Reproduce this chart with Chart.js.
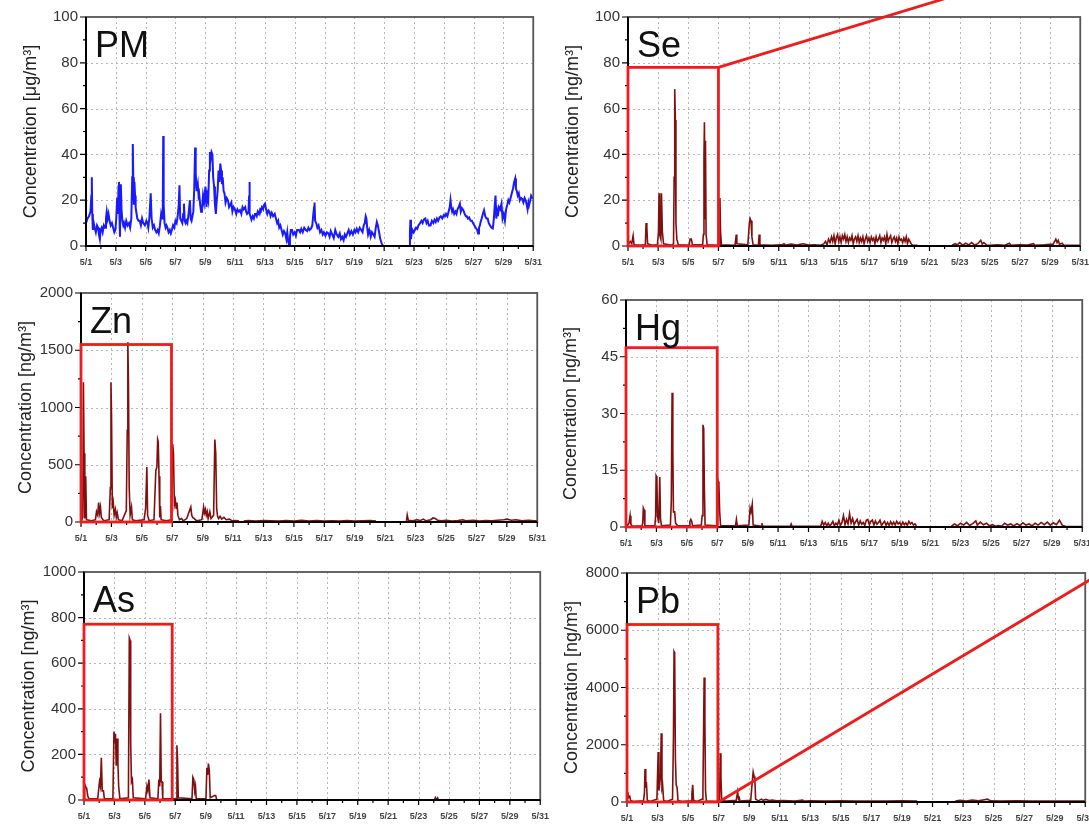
<!DOCTYPE html>
<html>
<head>
<meta charset="utf-8">
<script src="https://cdn.jsdelivr.net/npm/chart.js"></script>
<style>
  body { margin: 0; width: 1089px; height: 825px; overflow: hidden; background: #fff; position: relative; }
  canvas { position: absolute; }
</style>
</head>
<body>
<canvas id="pm"></canvas>
<canvas id="se"></canvas>
<canvas id="zn"></canvas>
<canvas id="hg"></canvas>
<canvas id="as"></canvas>
<canvas id="pb"></canvas>
<script>
// x values are days of May (1 = 5/1 00:00); null marks the missing stretch
var dayTicks = [1, 3, 5, 7, 9, 11, 13, 15, 17, 19, 21, 23, 25, 27, 29, 31];

var pmReadings = [
  [1.00,10],[1.10,12],[1.20,13],[1.30,15],[1.36,22],[1.39,30],[1.42,14],[1.46,7],[1.52,10],[1.58,8],
  [1.66,6],[1.74,9],[1.81,8],[1.87,5],[1.93,3],[1.98,7],[2.05,8],[2.12,6],[2.20,9],[2.28,8],
  [2.34,12],[2.39,15],[2.45,12],[2.51,14],[2.58,11],[2.66,9],[2.74,10],[2.82,8],[2.90,6],[2.97,7],
  [3.03,12],[3.09,21],[3.14,14],[3.18,26],[3.21,28],[3.25,12],[3.28,4],[3.31,22],[3.34,27],[3.38,16],
  [3.44,11],[3.50,9],[3.55,10],[3.62,8],[3.70,11],[3.79,9],[3.88,10],[3.96,8],[4.04,12],[4.10,30],
  [4.14,44.5],[4.17,30],[4.21,18],[4.25,28],[4.29,22],[4.33,17],[4.37,15],[4.44,12],[4.52,11],[4.60,11],
  [4.68,9],[4.76,12],[4.84,10],[4.95,9],[5.05,11],[5.12,10],[5.18,8],[5.26,13],[5.34,23],[5.40,12],
  [5.48,8],[5.56,9],[5.64,7],[5.72,6],[5.80,7],[5.88,5.5],[5.96,9],[6.04,14],[6.10,12],[6.15,16],
  [6.18,48],[6.21,18],[6.27,10],[6.34,8],[6.40,9],[6.46,8],[6.54,6],[6.62,7],[6.69,5.5],[6.76,7],
  [6.84,9],[6.92,8],[7.00,11],[7.08,10],[7.15,13],[7.22,18],[7.27,26.5],[7.32,12],[7.39,11],[7.46,10],
  [7.52,14],[7.57,18.5],[7.62,11],[7.68,10],[7.73,11],[7.80,10],[7.88,14],[7.97,20],[8.02,12],[8.08,11],
  [8.14,13],[8.20,15],[8.26,25],[8.32,43],[8.36,32],[8.40,26],[8.43,24],[8.50,27],[8.55,22],[8.59,23],
  [8.66,18],[8.72,15],[8.78,15.6],[8.85,22],[8.92,19],[9.01,26],[9.08,17],[9.14,22],[9.20,20],[9.26,33],
  [9.31,41],[9.36,38],[9.42,41],[9.48,40],[9.53,30],[9.59,26],[9.65,18],[9.71,14],[9.77,20],[9.83,24],
  [9.89,33],[9.95,28],[10.01,36],[10.06,33],[10.12,27],[10.17,30],[10.23,24],[10.29,23],[10.36,19],[10.44,21],
  [10.52,20],[10.60,17],[10.68,18],[10.75,19],[10.82,15],[10.90,17],[10.99,16],[11.08,14],[11.16,16],[11.25,15],
  [11.33,15.6],[11.42,14],[11.50,17],[11.58,16],[11.68,17],[11.74,15],[11.80,14],[11.90,15],[11.94,22],[11.96,28],
  [11.99,14],[12.03,13],[12.10,11.5],[12.18,13],[12.26,12],[12.33,14],[12.38,14],[12.45,13],[12.52,15],[12.60,14],
  [12.68,16],[12.73,15.6],[12.80,17],[12.88,16],[12.95,18],[13.01,18.5],[13.08,16],[13.16,14],[13.24,15.5],[13.31,15],
  [13.38,13],[13.46,14.5],[13.55,13],[13.66,14],[13.74,12],[13.82,10],[13.89,11],[13.96,8],[14.04,9],[14.12,7],
  [14.20,5],[14.28,6.5],[14.36,5.5],[14.44,3],[14.50,6],[14.56,2],[14.63,0.4],[14.68,4],[14.74,7],[14.82,7],
  [14.90,5],[15.00,6],[15.08,4.5],[15.16,7],[15.28,7],[15.36,6],[15.44,7.5],[15.54,6],[15.64,8],[15.75,7],
  [15.84,6.5],[15.92,8],[16.00,7],[16.10,7.7],[16.18,9],[16.25,14],[16.30,17],[16.33,19],[16.37,11],[16.44,10],
  [16.52,8],[16.60,9],[16.70,6],[16.79,7],[16.88,5],[16.96,6],[17.06,4.5],[17.16,6],[17.26,5.5],[17.34,4],
  [17.42,6.5],[17.52,5],[17.62,3.5],[17.72,7],[17.82,5],[17.92,4],[18.02,5.5],[18.10,3],[18.19,4],[18.28,2.5],
  [18.36,5],[18.44,4],[18.53,5.5],[18.62,7],[18.70,5],[18.80,6.5],[18.90,5],[19.00,7],[19.08,6],[19.16,7.5],
  [19.26,6],[19.36,8],[19.46,7],[19.55,6],[19.63,9],[19.70,10],[19.76,13],[19.81,12],[19.86,8],[19.92,5],
  [20.00,7],[20.04,6],[20.10,4],[20.18,6],[20.28,5],[20.36,4],[20.44,8],[20.51,10.5],[20.58,9],[20.66,6],
  [20.74,3],[20.84,1],[20.93,0],[21.80,null],[22.70,0],[22.73,6],[22.76,11.5],[22.80,3],[22.83,5],[22.90,7],
  [22.98,6],[23.06,7],[23.14,8],[23.22,7.5],[23.30,9],[23.41,10],[23.50,11],[23.58,10],[23.66,11.5],[23.76,12],
  [23.84,10],[23.92,11],[24.00,9],[24.11,9],[24.20,11],[24.30,10],[24.38,11.5],[24.46,10.5],[24.54,12],[24.62,11],
  [24.72,12.5],[24.80,13],[24.90,12],[25.00,13.5],[25.08,13],[25.15,14],[25.24,13],[25.32,15],[25.40,17],[25.45,20],
  [25.50,17],[25.56,15],[25.62,16],[25.70,14],[25.78,15],[25.85,14],[25.92,16],[26.00,17],[26.08,18.5],[26.14,15],
  [26.22,16.5],[26.31,15.6],[26.40,14],[26.48,13],[26.54,13],[26.62,12],[26.70,12.5],[26.80,11],[26.89,11],[26.96,10],
  [27.05,9],[27.14,8],[27.24,7],[27.30,5.5],[27.36,8],[27.42,9],[27.47,10.5],[27.54,12],[27.62,14],[27.70,15.6],
  [27.78,13],[27.86,12],[27.94,12],[28.02,10],[28.10,9],[28.20,8],[28.29,7.7],[28.36,12],[28.42,18],[28.47,22],
  [28.52,12],[28.58,15],[28.63,13],[28.70,17],[28.78,16],[28.87,18.5],[28.94,12],[29.02,14],[29.10,11],[29.18,16],
  [29.26,18],[29.33,20],[29.40,19],[29.48,21],[29.56,23],[29.64,25],[29.72,28],[29.79,29.5],[29.84,25],[29.90,24],
  [29.96,22],[30.03,23],[30.10,20],[30.18,21],[30.26,20.6],[30.34,19],[30.42,21],[30.49,20],[30.56,18],[30.62,16],
  [30.68,19],[30.72,17.8],[30.80,20],[30.86,22],[30.95,21],[31.00,21]
];

var seReadings = [
  [1.00,0.5],[1.15,2],[1.25,1],[1.34,4.5],[1.40,0.5],[1.80,0.3],[2.15,0.5],[2.20,10],[2.25,8],[2.30,1],
  [2.60,0.3],[2.95,0.5],[3.02,6],[3.06,23],[3.10,5],[3.18,3],[3.22,23],[3.28,6],[3.36,1],[3.90,0.3],
  [4.02,1],[4.06,30],[4.10,68.5],[4.14,55],[4.18,10],[4.24,3],[4.34,0.5],[5.05,0.3],[5.12,3],[5.20,3],
  [5.28,0.5],[5.95,0.5],[6.00,5],[6.04,40],[6.07,54],[6.11,12],[6.14,46],[6.18,5],[6.25,0.5],[6.90,0.3],
  [7.05,0.5],[7.10,21],[7.14,6],[7.20,0.5],[8.10,0.3],[8.18,5],[8.22,1],[8.95,0.5],[9.05,10],[9.10,12],
  [9.16,11],[9.22,4],[9.30,0.5],[9.65,0.3],[9.70,5],[9.75,0.5],[10.50,0.3],[11.20,0.5],[11.35,1],[11.45,0.3],
  [11.80,0.8],[12.20,0.4],[12.60,1],[13.00,0.4],[13.40,0.5],[13.80,0.3],[14.00,1],[14.10,2],[14.20,0.5],[14.30,3],
  [14.40,1.5],[14.50,4],[14.58,2],[14.66,4.5],[14.74,1],[14.82,3.5],[14.90,5],[14.98,2],[15.06,4],[15.14,1.5],
  [15.22,4.5],[15.30,3],[15.38,5],[15.46,2],[15.54,4],[15.62,1.5],[15.70,3.5],[15.78,2.5],[15.86,4.5],[15.94,1],
  [16.02,3],[16.10,4],[16.18,2],[16.26,4.5],[16.34,1.5],[16.42,3.5],[16.50,2],[16.58,4],[16.66,1],[16.74,3],
  [16.82,4.5],[16.90,2],[16.98,3.5],[17.06,1.5],[17.14,4],[17.22,2.5],[17.30,3.5],[17.38,1],[17.46,4],[17.54,2],
  [17.62,3],[17.70,4.5],[17.78,1.5],[17.86,3.5],[17.94,2.5],[18.02,4],[18.10,1],[18.18,5],[18.26,2],[18.34,3.5],
  [18.42,4.5],[18.50,1.5],[18.58,3],[18.66,4],[18.74,2],[18.82,3.5],[18.90,1],[18.98,4],[19.06,2.5],[19.14,3],
  [19.22,1.5],[19.30,3.5],[19.38,2],[19.46,4],[19.54,1],[19.62,3],[19.70,2],[19.78,1],[19.86,0.4],[20.20,0.3],
  [20.40,null],[22.50,0.3],[22.70,1],[22.85,0.5],[23.00,1.5],[23.20,0.4],[23.40,1.2],[23.60,0.5],[23.80,1.5],[24.00,0.4],
  [24.20,1],[24.40,2.5],[24.50,0.8],[24.60,1.5],[24.80,0.4],[25.00,0.3],[25.50,0.5],[26.00,0.3],[26.30,1.2],[26.40,0.3],
  [27.00,0.5],[27.50,0.4],[27.90,1],[28.00,0.3],[28.60,0.5],[29.20,0.8],[29.30,2],[29.38,3],[29.46,1.5],[29.54,2.5],
  [29.62,0.8],[29.80,1.2],[29.90,0.3],[31.00,0.3]
];

var znReadings = [
  [1.00,5],[1.12,40],[1.16,1220],[1.20,600],[1.25,30],[1.31,400],[1.36,20],[1.70,10],[1.95,20],[2.02,90],
  [2.10,60],[2.16,170],[2.22,80],[2.28,130],[2.34,40],[2.50,10],[2.85,20],[2.93,300],[2.97,1220],[3.01,900],
  [3.06,120],[3.12,170],[3.18,60],[3.26,110],[3.32,40],[3.38,80],[3.46,20],[3.70,10],[3.98,100],[4.04,800],
  [4.08,1570],[4.12,1230],[4.17,300],[4.23,60],[4.32,130],[4.38,20],[4.60,10],[5.15,20],[5.25,120],[5.33,480],
  [5.38,60],[5.48,10],[5.80,20],[5.92,450],[5.99,480],[6.04,720],[6.08,700],[6.13,400],[6.18,40],[6.22,140],
  [6.27,20],[6.60,10],[6.95,20],[7.03,680],[7.08,600],[7.14,150],[7.20,190],[7.26,120],[7.31,170],[7.37,60],
  [7.47,20],[7.62,30],[7.72,10],[7.95,30],[8.22,130],[8.28,60],[8.34,40],[8.45,30],[8.60,10],[8.95,20],
  [9.06,130],[9.12,80],[9.18,110],[9.24,60],[9.30,90],[9.36,30],[9.47,90],[9.55,30],[9.72,60],[9.80,720],
  [9.86,600],[9.92,120],[9.98,50],[10.05,30],[10.15,50],[10.25,25],[10.40,40],[10.55,20],[10.75,25],[10.95,10],
  [11.20,12],[11.40,8],[11.50,null],[11.70,8],[12.00,12],[12.50,8],[13.00,12],[13.50,10],[14.00,8],[14.50,12],
  [15.00,9],[15.50,14],[16.00,8],[16.50,12],[17.00,9],[17.50,11],[18.00,8],[18.50,12],[19.00,9],[19.50,10],
  [20.00,12],[20.40,8],[20.50,null],[22.40,10],[22.45,60],[22.52,15],[22.80,10],[23.10,20],[23.30,12],[23.50,25],
  [23.70,10],[24.00,20],[24.15,35],[24.30,30],[24.45,15],[24.70,10],[25.00,15],[25.40,8],[25.80,12],[26.10,20],
  [26.30,10],[26.80,15],[27.20,8],[27.60,12],[28.00,10],[28.40,15],[28.80,20],[29.00,25],[29.30,15],[29.60,20],
  [30.00,10],[30.40,15],[30.80,10],[31.00,10]
];

var hgReadings = [
  [1.00,0.2],[1.10,0.5],[1.20,1],[1.27,3],[1.32,0.8],[1.40,0.2],[2.05,0.3],[2.10,1],[2.14,5],[2.19,4.5],
  [2.24,0.3],[2.90,0.3],[2.95,3],[2.98,13.5],[3.03,13],[3.07,3],[3.15,1],[3.22,13.2],[3.27,2],[3.34,0.3],
  [3.92,0.5],[3.98,7],[4.03,35.5],[4.08,20],[4.12,4],[4.20,4],[4.26,1],[4.40,0.3],[5.15,0.3],[5.20,1.5],
  [5.26,2],[5.32,1.5],[5.38,0.3],[5.95,0.5],[6.01,3],[6.06,27],[6.11,26],[6.15,11],[6.20,0.5],[6.90,0.3],
  [7.02,0.5],[7.06,12],[7.11,11],[7.16,4],[7.22,0.3],[8.20,0.3],[8.26,2],[8.32,0.3],[9.08,0.5],[9.16,5],
  [9.22,4],[9.30,6],[9.36,0.5],[9.90,0.2],[9.94,1],[9.98,0.2],[11.80,0.2],[11.86,0.8],[11.92,0.2],[13.80,0.2],
  [13.90,1.5],[14.00,0.5],[14.10,1.2],[14.20,0.3],[14.30,1],[14.40,0.2],[14.50,0.8],[14.60,1.5],[14.70,0.3],[14.80,1],
  [14.90,0.5],[15.00,1.8],[15.10,0.4],[15.20,1.2],[15.30,3],[15.40,0.6],[15.50,2],[15.60,0.8],[15.70,3.5],[15.80,1],
  [15.90,2.2],[16.00,0.6],[16.10,1.4],[16.20,2],[16.30,0.5],[16.40,1.6],[16.50,0.7],[16.60,1.2],[16.70,0.4],[16.80,1.8],
  [16.90,2],[17.00,0.6],[17.10,1.5],[17.20,1.8],[17.30,0.5],[17.40,1.6],[17.50,0.7],[17.60,1.2],[17.70,1.8],[17.80,0.4],
  [17.90,1],[18.00,1.5],[18.10,0.5],[18.20,1.2],[18.30,0.4],[18.40,1.4],[18.50,0.6],[18.60,1.3],[18.70,0.5],[18.80,1.5],
  [18.90,0.8],[19.00,1.2],[19.10,0.4],[19.20,1.3],[19.30,0.6],[19.40,1.1],[19.50,0.4],[19.60,1.5],[19.70,0.8],[19.80,1.2],
  [19.90,0.5],[20.00,0.8],[20.10,0.3],[20.20,null],[22.40,0.2],[22.60,0.8],[22.80,0.3],[23.00,1],[23.20,0.5],[23.40,1.2],
  [23.60,0.4],[23.80,0.9],[24.00,1.6],[24.10,0.5],[24.30,1.3],[24.50,0.6],[24.70,1],[24.90,0.3],[25.10,0.6],[25.30,0.2],
  [25.50,0.4],[25.70,0.2],[25.90,1],[26.10,0.5],[26.30,0.8],[26.50,0.3],[26.70,0.9],[26.90,0.4],[27.10,1.1],[27.30,0.5],
  [27.50,0.8],[27.70,0.3],[27.90,1],[28.10,0.5],[28.30,1.2],[28.50,0.6],[28.70,1.3],[28.90,0.5],[29.10,1.1],[29.30,0.6],
  [29.50,1.8],[29.70,0.4],[29.90,0.2],[31.00,0.1]
];

var asReadings = [
  [1.00,5],[1.04,70],[1.10,60],[1.18,50],[1.24,20],[1.32,5],[1.90,5],[2.02,80],[2.08,60],[2.14,185],
  [2.20,40],[2.28,40],[2.34,5],[2.90,5],[2.97,300],[3.02,270],[3.07,290],[3.12,150],[3.18,270],[3.23,160],
  [3.28,60],[3.36,5],[3.92,10],[3.98,710],[4.03,700],[4.07,250],[4.12,80],[4.18,90],[4.24,10],[5.05,5],
  [5.14,60],[5.20,40],[5.27,90],[5.34,10],[5.86,5],[5.92,90],[5.98,60],[6.03,380],[6.08,80],[6.13,80],
  [6.18,5],[7.05,5],[7.11,240],[7.15,180],[7.20,10],[8.10,5],[8.16,100],[8.22,90],[8.28,40],[8.33,60],
  [8.38,5],[9.02,5],[9.08,140],[9.13,110],[9.18,160],[9.24,130],[9.30,10],[9.58,20],[9.66,20],[9.72,2],
  [10.50,1],[15.00,1],[20.40,1],[20.50,null],[22.50,1],[24.05,1],[24.10,10],[24.15,2],[24.25,10],[24.30,1],
  [31.00,1]
];

var pbReadings = [
  [1.00,300],[1.05,350],[1.10,150],[1.18,200],[1.24,50],[1.40,20],[2.08,40],[2.14,300],[2.18,1150],[2.23,500],
  [2.27,700],[2.33,60],[2.50,20],[2.96,100],[3.04,1750],[3.09,400],[3.14,600],[3.20,1000],[3.24,2400],[3.29,500],
  [3.33,600],[3.40,50],[3.60,20],[3.98,100],[4.04,2200],[4.08,5250],[4.12,5200],[4.17,1500],[4.22,600],[4.28,500],
  [4.34,50],[4.60,20],[5.20,40],[5.25,300],[5.30,600],[5.36,50],[5.60,20],[5.92,100],[5.97,400],[6.02,2800],
  [6.05,4350],[6.10,2800],[6.14,400],[6.20,30],[6.90,20],[7.06,100],[7.11,1700],[7.15,900],[7.20,50],[7.50,30],
  [8.15,60],[8.24,350],[8.30,100],[8.35,150],[8.40,30],[9.10,60],[9.20,700],[9.26,1050],[9.32,900],[9.37,800],
  [9.42,100],[9.60,40],[9.80,100],[9.90,60],[10.10,90],[10.30,50],[10.50,70],[10.80,40],[11.20,50],[12.00,30],
  [12.50,70],[12.60,30],[13.00,40],[14.00,30],[15.00,40],[16.00,30],[17.00,35],[18.00,30],[19.00,40],[20.00,30],
  [20.40,null],[22.50,30],[22.80,60],[23.20,30],[23.60,70],[24.00,40],[24.40,80],[24.60,100],[24.80,40],[25.50,30],
  [26.50,40],[27.50,30],[28.50,35],[29.50,30],[31.00,30]
];

// zoom boxes [x end, y top] and connector lines [x0, y0, x1, y1], in data units
var seBox = [7, 78], seLink = [7, 78, 26, 116];
var znBox = [6.95, 1550];
var hgBox = [7, 47.4];
var asBox = [6.8, 771];
var pbBox = [6.95, 6200], pbLink = [7, 0, 32, 7980];

var AXIS_W = 86, AXIS_H = 30, PAD_T = 15, PAD_R = 16;
var FONT = '"Liberation Sans", Arial, sans-serif';

var framePlugin = {
  id: 'frame',
  beforeDatasetsDraw: function (chart, args, o) {
    var ctx = chart.ctx, a = chart.chartArea, x = chart.scales.x, y = chart.scales.y;
    ctx.save();
    ctx.strokeStyle = '#b8b8b8';
    ctx.lineWidth = 1;
    ctx.setLineDash([2, 3]);
    ctx.beginPath();
    dayTicks.slice(1, -1).forEach(function (d) {
      var px = Math.round(x.getPixelForValue(d)) + 0.5;
      ctx.moveTo(px, a.top); ctx.lineTo(px, a.bottom);
    });
    y.ticks.forEach(function (t) {
      if (t.value > y.min && t.value < y.max) {
        var py = Math.round(y.getPixelForValue(t.value)) + 0.5;
        ctx.moveTo(a.left, py); ctx.lineTo(a.right, py);
      }
    });
    ctx.stroke();
    ctx.restore();
  },
  afterDraw: function (chart, args, o) {
    var ctx = chart.ctx, a = chart.chartArea, x = chart.scales.x, y = chart.scales.y;
    ctx.save();
    // plot frame: grey top/right, black axes
    ctx.strokeStyle = '#555';
    ctx.lineWidth = 1.8;
    ctx.strokeRect(a.left, a.top, a.right - a.left, a.bottom - a.top);
    ctx.strokeStyle = '#000';
    ctx.lineWidth = 2;
    ctx.beginPath();
    ctx.moveTo(a.left, a.top); ctx.lineTo(a.left, a.bottom); ctx.lineTo(a.right, a.bottom);
    ctx.stroke();

    // tick marks, one per day and minor ones on y
    ctx.lineWidth = 1.2;
    ctx.beginPath();
    for (var d = 1; d <= 31; d++) {
      var px = x.getPixelForValue(d);
      ctx.moveTo(px, a.bottom); ctx.lineTo(px, a.bottom + (d % 2 ? 5 : 3));
    }
    var n = Math.round(y.max / o.minor);
    for (var i = 0; i <= n; i++) {
      var v = i * o.minor;
      var py = y.getPixelForValue(v);
      var major = Math.abs(v / o.step - Math.round(v / o.step)) < 1e-6;
      ctx.moveTo(a.left, py); ctx.lineTo(a.left - (major ? 6 : 3), py);
    }
    ctx.stroke();

    // zoom box and connector
    ctx.strokeStyle = '#ee1c1c';
    ctx.lineWidth = 2.8;
    if (o.box) {
      var bx0 = x.getPixelForValue(1), bx1 = x.getPixelForValue(o.box[0]);
      var by0 = y.getPixelForValue(o.box[1]), by1 = y.getPixelForValue(0);
      ctx.strokeRect(bx0, by0, bx1 - bx0, by1 - by0);
    }
    if (o.link) {
      ctx.beginPath();
      ctx.moveTo(x.getPixelForValue(o.link[0]), y.getPixelForValue(o.link[1]));
      ctx.lineTo(x.getPixelForValue(o.link[2]), y.getPixelForValue(o.link[3]));
      ctx.stroke();
    }

    // element name
    ctx.fillStyle = '#111';
    ctx.font = '36px ' + FONT;
    ctx.textBaseline = 'alphabetic';
    ctx.fillText(o.label, a.left + 9, a.top + 40);
    ctx.restore();
  }
};

function points(list) {
  return list.map(function (p) { return { x: p[0], y: p[1] }; });
}

function panel(id, g, readings, s) {
  var c = document.getElementById(id);
  c.width = g.r - g.l + AXIS_W + PAD_R;
  c.height = g.b - g.t + PAD_T + AXIS_H;
  c.style.left = (g.l - AXIS_W) + 'px';
  c.style.top = (g.t - PAD_T) + 'px';

  new Chart(c, {
    type: 'line',
    data: {
      datasets: [{
        data: points(readings),
        borderColor: s.color || '#800f0f',
        borderWidth: s.width || 1.6,
        pointRadius: 0,
        tension: 0,
        fill: false
      }]
    },
    options: {
      responsive: false,
      animation: false,
      events: [],
      layout: { padding: { top: PAD_T, right: PAD_R, left: 0, bottom: 0 } },
      plugins: {
        legend: { display: false },
        tooltip: { enabled: false },
        frame: { label: s.label, step: s.step, minor: s.minor, box: s.box, link: s.link }
      },
      scales: {
        x: {
          type: 'linear',
          min: 1,
          max: 31,
          afterBuildTicks: function (scale) {
            scale.ticks = dayTicks.map(function (d) { return { value: d }; });
          },
          afterFit: function (scale) { scale.height = AXIS_H; },
          grid: { display: false, drawTicks: false },
          border: { display: false },
          ticks: {
            autoSkip: false,
            maxRotation: 0,
            padding: 11,
            color: '#444',
            font: { family: FONT, size: 9, weight: 'bold' },
            callback: function (v) { return '5/' + v; }
          }
        },
        y: {
          min: 0,
          max: s.max,
          afterFit: function (scale) { scale.width = AXIS_W; },
          grid: { display: false, drawTicks: false },
          border: { display: false },
          ticks: {
            stepSize: s.step,
            padding: 8,
            color: '#333',
            font: { family: FONT, size: 15 },
            callback: function (v) { return String(v); }
          },
          title: {
            display: true,
            text: 'Concentration [' + s.unit + ']',
            color: '#222',
            font: { family: FONT, size: 18 },
            padding: { top: 20, bottom: 0 }
          }
        }
      }
    },
    plugins: [framePlugin]
  });
}

panel('pm', { l: 86, t: 15, r: 537, b: 246 }, pmReadings,
  { label: 'PM', unit: 'μg/m³', max: 100, step: 20, minor: 10, color: '#1a1aff', width: 2 });
panel('se', { l: 628, t: 15, r: 1084, b: 246 }, seReadings,
  { label: 'Se', unit: 'ng/m³', max: 100, step: 20, minor: 10, box: seBox, link: seLink });
panel('zn', { l: 81, t: 291, r: 541, b: 522 }, znReadings,
  { label: 'Zn', unit: 'ng/m³', max: 2000, step: 500, minor: 250, box: znBox });
panel('hg', { l: 626, t: 298, r: 1086, b: 527 }, hgReadings,
  { label: 'Hg', unit: 'ng/m³', max: 60, step: 15, minor: 7.5, box: hgBox });
panel('as', { l: 84, t: 570, r: 544, b: 800 }, asReadings,
  { label: 'As', unit: 'ng/m³', max: 1000, step: 200, minor: 100, box: asBox });
panel('pb', { l: 627, t: 571, r: 1089, b: 802 }, pbReadings,
  { label: 'Pb', unit: 'ng/m³', max: 8000, step: 2000, minor: 1000, box: pbBox, link: pbLink });
</script>
</body>
</html>
